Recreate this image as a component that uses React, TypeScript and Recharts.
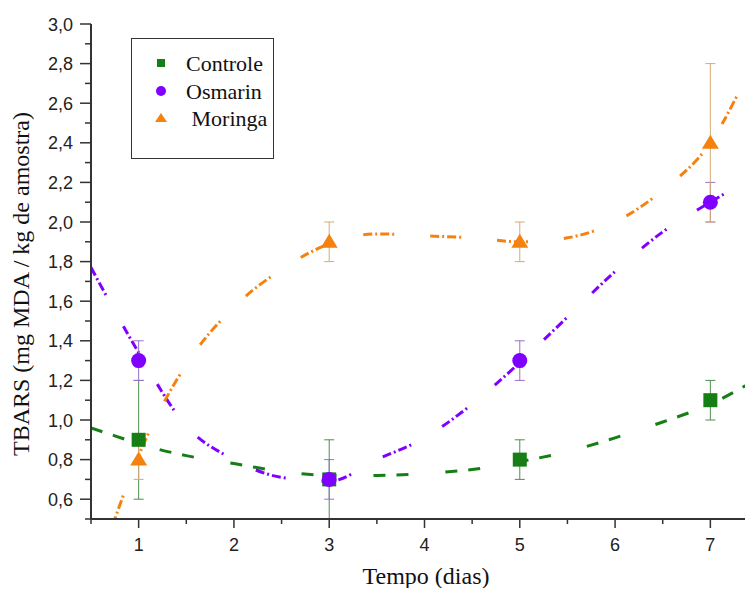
import React from 'react';
import {
  ComposedChart,
  Line,
  Scatter,
  ErrorBar,
  XAxis,
  YAxis,
} from 'recharts';

// measured points (mean ± sd)
const days = [1, 3, 5, 7];
const controle = [0.9, 0.7, 0.8, 1.1];
const controleErr = [0.3, 0.2, 0.1, 0.1];
const osmarin = [1.3, 0.7, 1.3, 2.1];
const osmarinErr = [0.1, 0.1, 0.1, 0.1];
const moringa = [0.8, 1.9, 1.9, 2.4];
const moringaErr = [0.1, 0.1, 0.1, 0.4];

// fitted curves
const fitDays = [0.5, 0.75, 1, 1.5, 2, 2.5, 3, 3.5, 4, 4.5, 5, 5.5, 6, 6.5, 7, 7.5];
const controleFit = [0.96, 0.92, 0.88, 0.82, 0.78, 0.74, 0.72, 0.72, 0.73, 0.75, 0.79, 0.84, 0.91, 0.99, 1.08, 1.21];
const osmarinFit = [1.77, 1.55, 1.34, 0.97, 0.8, 0.71, 0.69, 0.8, 0.91, 1.08, 1.29, 1.52, 1.75, 1.95, 2.1, 2.24];
const moringaFit = [0.15, 0.5, 0.82, 1.28, 1.57, 1.76, 1.89, 1.94, 1.93, 1.92, 1.9, 1.92, 2.0, 2.16, 2.4, 2.86];

const xTicks = [0.5, 1, 1.5, 2, 2.5, 3, 3.5, 4, 4.5, 5, 5.5, 6, 6.5, 7, 7.5];
const yTicks = [0.5, 0.6, 0.7, 0.8, 0.9, 1.0, 1.1, 1.2, 1.3, 1.4, 1.5, 1.6, 1.7, 1.8, 1.9, 2.0, 2.1, 2.2, 2.3, 2.4, 2.5, 2.6, 2.7, 2.8, 2.9, 3.0];

const GREEN = '#157f15';
const PURPLE = '#7f00ff';
const ORANGE = '#f5820f';
const AXIS = '#333333';
const SERIF = "'Liberation Serif', Tinos, 'Times New Roman', 'DejaVu Serif', serif";
const SANS = "'Liberation Sans', Arimo, Arial, sans-serif";

const points = (ys: number[], errs: number[]) =>
  days.map((d, i) => ({ x: d, y: ys[i], err: errs[i] }));
const curve = (ys: number[]) => fitDays.map((d, i) => ({ x: d, y: ys[i] }));

const SquareShape = (p: any) => (
  <rect x={p.cx - 7} y={p.cy - 7} width={14} height={14} fill={GREEN} />
);
const CircleShape = (p: any) => <circle cx={p.cx} cy={p.cy} r={7.5} fill={PURPLE} />;
const TriangleShape = (p: any) => (
  <polygon
    points={`${p.cx},${p.cy - 8} ${p.cx - 8.5},${p.cy + 6} ${p.cx + 8.5},${p.cy + 6}`}
    fill={ORANGE}
  />
);

const XTick = (props: any) => {
  const { x, y, payload } = props;
  const v = payload.value;
  const major = Number.isInteger(v);
  return (
    <g>
      <line x1={x} x2={x} y1={y} y2={y + (major ? 9 : 5)} stroke={AXIS} strokeWidth={1.5} />
      {major && (
        <text x={x} y={y + 32} textAnchor="middle" fontSize={18} style={{ fontFamily: SANS }} fill="#222">
          {v}
        </text>
      )}
    </g>
  );
};

const YTick = (props: any) => {
  const { x, y, payload } = props;
  const v = payload.value;
  const major = Math.round(v * 10) % 2 === 0;
  return (
    <g>
      <line x1={x - (major ? 11 : 6)} x2={x} y1={y} y2={y} stroke={AXIS} strokeWidth={1.5} />
      {major && (
        <text x={x - 18} y={y + 6.5} textAnchor="end" fontSize={18} style={{ fontFamily: SANS }} fill="#222">
          {v.toFixed(1).replace('.', ',')}
        </text>
      )}
    </g>
  );
};

export default function App() {
  return (
    <div style={{ position: 'relative', width: 745, height: 580, overflow: 'hidden' }}>
      <ComposedChart
        width={760}
        height={580}
        margin={{ top: 16, right: 10, left: 0, bottom: 0 }}
      >
        <XAxis
          dataKey="x"
          type="number"
          domain={[0.5, 7.5]}
          ticks={xTicks}
          interval={0}
          allowDataOverflow
          height={69}
          tickSize={0}
          tickMargin={0}
          tickLine={false}
          tick={<XTick />}
          axisLine={{ stroke: AXIS, strokeWidth: 2 }}
        />
        <XAxis
          xAxisId="top"
          orientation="top"
          type="number"
          domain={[0.5, 7.5]}
          height={0}
          tick={false}
          tickLine={false}
          axisLine={{ stroke: AXIS, strokeWidth: 2 }}
        />
        <YAxis
          type="number"
          domain={[0.5, 3]}
          ticks={yTicks}
          interval={0}
          allowDataOverflow
          width={83}
          tickSize={0}
          tickMargin={0}
          tickLine={false}
          tick={<YTick />}
          axisLine={{ stroke: AXIS, strokeWidth: 2 }}
        />

        {/* fitted curves */}
        <Line
          data={curve(controleFit)}
          dataKey="y"
          type="monotone"
          stroke={GREEN}
          strokeWidth={3}
          strokeDasharray="12 11 12 37"
          dot={false}
          activeDot={false}
          isAnimationActive={false}
        />
        <Line
          data={curve(osmarinFit)}
          dataKey="y"
          type="monotone"
          stroke={PURPLE}
          strokeWidth={3}
          strokeDasharray="9 3 2 3 9 3 2 36"
          dot={false}
          activeDot={false}
          isAnimationActive={false}
        />
        <Line
          data={curve(moringaFit)}
          dataKey="y"
          type="monotone"
          stroke={ORANGE}
          strokeWidth={3}
          strokeDasharray="9 3 2 3 9 3 2 36"
          dot={false}
          activeDot={false}
          isAnimationActive={false}
        />

        {/* measured points */}
        <Scatter data={points(controle, controleErr)} dataKey="y" shape={SquareShape} isAnimationActive={false}>
          <ErrorBar dataKey="err" direction="y" width={5} stroke="#4f8f4f" strokeWidth={1} />
        </Scatter>
        <Scatter data={points(osmarin, osmarinErr)} dataKey="y" shape={CircleShape} isAnimationActive={false}>
          <ErrorBar dataKey="err" direction="y" width={5} stroke="#9a70c8" strokeWidth={1} />
        </Scatter>
        <Scatter data={points(moringa, moringaErr)} dataKey="y" shape={TriangleShape} isAnimationActive={false}>
          <ErrorBar dataKey="err" direction="y" width={5} stroke="#d4aa78" strokeWidth={1} />
        </Scatter>
      </ComposedChart>

      {/* legend */}
      <div
        style={{
          position: 'absolute',
          left: 123,
          top: 30,
          width: 141,
          height: 119,
          border: '1.5px solid #333',
          background: '#fff',
        }}
      >
        <svg width={141} height={119} style={{ display: 'block' }}>
          <rect x={25} y={20} width={8} height={8} fill={GREEN} />
          <circle cx={29} cy={52} r={5} fill={PURPLE} />
          <polygon points="29,74 23,83 35,83" fill={ORANGE} />
          <g style={{ fontFamily: SERIF, fontSize: 22 }} fill="#111" dominantBaseline="central">
            <text x={54} y={24}>Controle</text>
            <text x={54} y={52}>Osmarin</text>
            <text x={54} y={79} style={{ whiteSpace: 'pre' }}> Moringa</text>
          </g>
        </svg>
      </div>

      {/* axis titles */}
      <div
        style={{
          position: 'absolute',
          left: 13,
          top: 276,
          transform: 'translate(-50%, -50%) rotate(-90deg)',
          whiteSpace: 'nowrap',
          fontFamily: SERIF,
          fontSize: 24,
          lineHeight: 1,
          color: '#111',
        }}
      >
        TBARS (mg MDA / kg de amostra)
      </div>
      <div
        style={{
          position: 'absolute',
          left: 418,
          top: 556,
          transform: 'translateX(-50%)',
          whiteSpace: 'nowrap',
          fontFamily: SERIF,
          fontSize: 24,
          lineHeight: 1,
          color: '#111',
        }}
      >
        Tempo (dias)
      </div>
    </div>
  );
}
